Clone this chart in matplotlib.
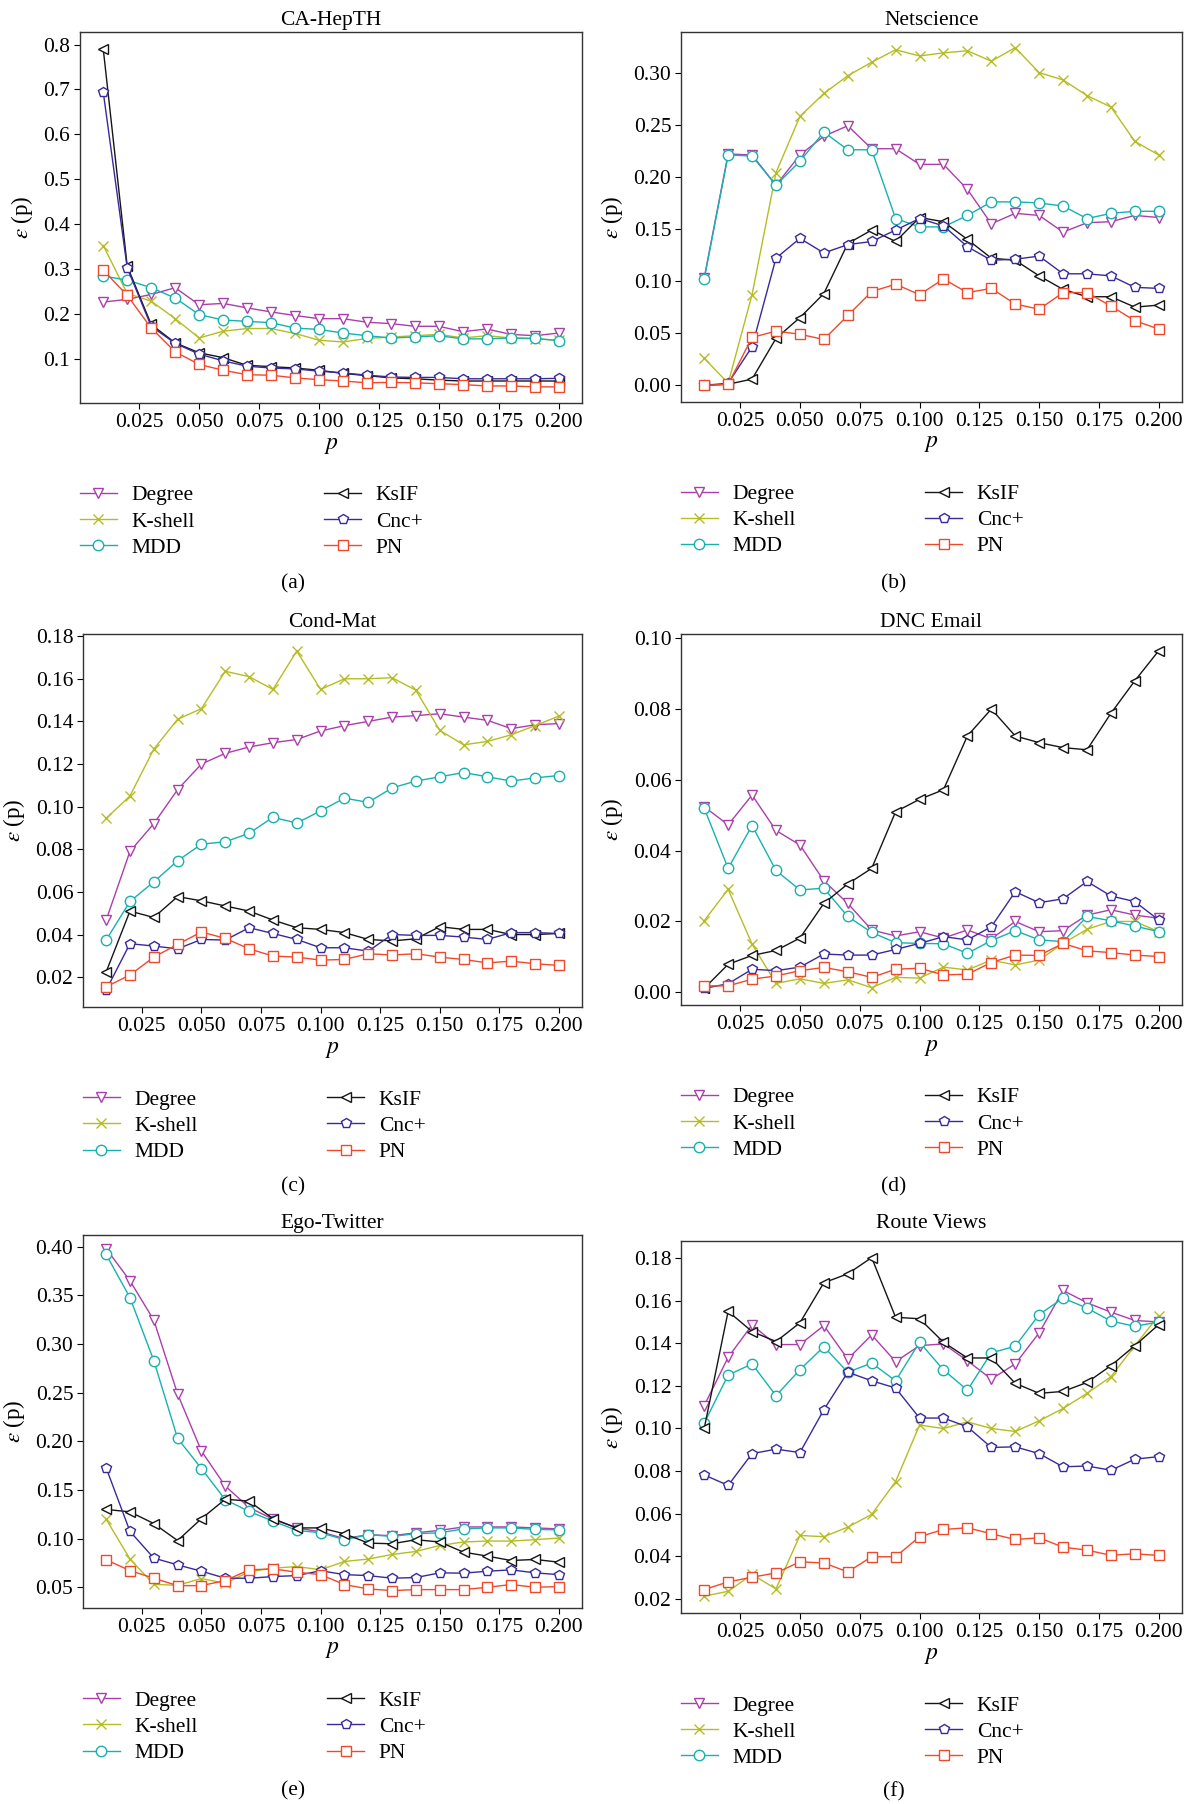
import matplotlib.pyplot as plt
from matplotlib.ticker import FixedLocator, FormatStrFormatter

plt.rcParams['font.family'] = 'serif'
plt.rcParams['font.serif'] = ['Liberation Serif', 'DejaVu Serif']
plt.rcParams['mathtext.fontset'] = 'stix'
plt.rcParams['font.size'] = 15

# fraction of removed nodes
p = [0.01, 0.02, 0.03, 0.04, 0.05, 0.06, 0.07, 0.08, 0.09, 0.10,
     0.11, 0.12, 0.13, 0.14, 0.15, 0.16, 0.17, 0.18, 0.19, 0.20]

methods = ['Degree', 'K-shell', 'MDD', 'KsIF', 'Cnc+', 'PN']

# CA-HepTH
hepth_degree = [0.226, 0.232, 0.243, 0.258, 0.220, 0.223, 0.213, 0.204, 0.196, 0.189,
                0.189, 0.181, 0.178, 0.172, 0.172, 0.160, 0.166, 0.154, 0.151, 0.157]
hepth_kshell = [0.352, 0.245, 0.228, 0.189, 0.146, 0.161, 0.167, 0.167, 0.156, 0.141,
                0.137, 0.145, 0.148, 0.151, 0.154, 0.146, 0.151, 0.146, 0.144, 0.141]
hepth_mdd = [0.284, 0.275, 0.258, 0.235, 0.198, 0.186, 0.183, 0.180, 0.168, 0.165,
             0.157, 0.151, 0.146, 0.148, 0.151, 0.144, 0.144, 0.146, 0.145, 0.140]
hepth_ksif = [0.790, 0.306, 0.176, 0.135, 0.113, 0.102, 0.085, 0.082, 0.079, 0.074,
              0.067, 0.062, 0.057, 0.055, 0.052, 0.050, 0.050, 0.050, 0.050, 0.050]
hepth_cnc = [0.694, 0.302, 0.172, 0.134, 0.110, 0.095, 0.083, 0.079, 0.077, 0.072,
             0.068, 0.063, 0.059, 0.058, 0.058, 0.055, 0.055, 0.055, 0.055, 0.056]
hepth_pn = [0.297, 0.241, 0.168, 0.115, 0.087, 0.074, 0.064, 0.063, 0.057, 0.053,
            0.050, 0.046, 0.047, 0.046, 0.044, 0.042, 0.039, 0.039, 0.037, 0.037]

# Netscience
net_degree = [0.103, 0.222, 0.221, 0.192, 0.221, 0.239, 0.249, 0.227, 0.227, 0.212,
              0.212, 0.188, 0.155, 0.165, 0.163, 0.147, 0.156, 0.157, 0.163, 0.161]
net_kshell = [0.026, 0.002, 0.087, 0.204, 0.258, 0.280, 0.297, 0.310, 0.322, 0.316,
              0.319, 0.321, 0.311, 0.324, 0.300, 0.293, 0.278, 0.267, 0.234, 0.221]
net_mdd = [0.102, 0.221, 0.220, 0.192, 0.215, 0.243, 0.226, 0.226, 0.160, 0.152,
           0.152, 0.163, 0.176, 0.176, 0.175, 0.172, 0.160, 0.165, 0.167, 0.167]
net_ksif = [0.000, 0.001, 0.006, 0.045, 0.065, 0.088, 0.136, 0.149, 0.138, 0.161,
            0.157, 0.140, 0.122, 0.120, 0.105, 0.092, 0.085, 0.085, 0.075, 0.077]
net_cnc = [0.000, 0.002, 0.037, 0.122, 0.141, 0.127, 0.135, 0.138, 0.149, 0.160,
           0.153, 0.133, 0.120, 0.121, 0.124, 0.107, 0.107, 0.105, 0.094, 0.093]
net_pn = [0.000, 0.001, 0.046, 0.052, 0.049, 0.044, 0.067, 0.090, 0.097, 0.087,
          0.102, 0.089, 0.093, 0.078, 0.073, 0.089, 0.089, 0.076, 0.062, 0.054]

# Cond-Mat
cond_degree = [0.0467, 0.079, 0.092, 0.108, 0.120, 0.125, 0.128, 0.130, 0.1315, 0.1355,
               0.138, 0.140, 0.142, 0.1427, 0.1436, 0.142, 0.1405, 0.1366, 0.1384, 0.139]
cond_kshell = [0.0945, 0.105, 0.127, 0.141, 0.146, 0.1635, 0.161, 0.155, 0.173, 0.155,
               0.160, 0.160, 0.1605, 0.1546, 0.1358, 0.129, 0.1306, 0.1337, 0.138, 0.1425]
cond_mdd = [0.0374, 0.0555, 0.0647, 0.0746, 0.0824, 0.0835, 0.0875, 0.095, 0.0923, 0.098,
            0.104, 0.102, 0.1088, 0.112, 0.114, 0.116, 0.114, 0.112, 0.1135, 0.1146]
cond_ksif = [0.0224, 0.051, 0.048, 0.0578, 0.0558, 0.0534, 0.051, 0.0468, 0.0432, 0.0424,
             0.0409, 0.0377, 0.037, 0.038, 0.0437, 0.0424, 0.0424, 0.040, 0.040, 0.0405]
cond_cnc = [0.0139, 0.0357, 0.0346, 0.0333, 0.0377, 0.0374, 0.0432, 0.0405, 0.0377, 0.0338,
            0.0338, 0.0322, 0.040, 0.0396, 0.0396, 0.0388, 0.0377, 0.0409, 0.0409, 0.0405]
cond_pn = [0.0155, 0.021, 0.0294, 0.0354, 0.0412, 0.0382, 0.0333, 0.0299, 0.0294, 0.028,
           0.0283, 0.031, 0.0304, 0.031, 0.0294, 0.0283, 0.0267, 0.0275, 0.0263, 0.0255]

# DNC Email
dnc_degree = [0.0524, 0.0473, 0.0557, 0.0457, 0.0416, 0.0315, 0.0251, 0.0176, 0.0159, 0.0171,
              0.0153, 0.0176, 0.0151, 0.0200, 0.0171, 0.0174, 0.0218, 0.0233, 0.0218, 0.0209]
dnc_kshell = [0.0202, 0.0291, 0.0136, 0.0025, 0.0038, 0.0025, 0.0035, 0.0013, 0.0042, 0.0040,
              0.0071, 0.0063, 0.0091, 0.0077, 0.0091, 0.0138, 0.0178, 0.0200, 0.0200, 0.0171]
dnc_mdd = [0.0520, 0.0350, 0.0471, 0.0344, 0.0289, 0.0294, 0.0214, 0.0169, 0.0140, 0.0138,
           0.0137, 0.0110, 0.0146, 0.0174, 0.0148, 0.0143, 0.0214, 0.0202, 0.0187, 0.0171]
dnc_ksif = [0.0011, 0.0079, 0.0104, 0.0118, 0.0153, 0.0251, 0.0306, 0.0350, 0.0510, 0.0545,
            0.0572, 0.0724, 0.0800, 0.0724, 0.0705, 0.0691, 0.0685, 0.0788, 0.0880, 0.0965]
dnc_cnc = [0.0011, 0.0024, 0.0065, 0.0061, 0.0071, 0.0108, 0.0105, 0.0105, 0.0121, 0.0138,
           0.0157, 0.0148, 0.0185, 0.0284, 0.0253, 0.0264, 0.0313, 0.0272, 0.0256, 0.0204]
dnc_pn = [0.0018, 0.0018, 0.0037, 0.0046, 0.0061, 0.0070, 0.0058, 0.0042, 0.0065, 0.0068,
          0.0049, 0.0051, 0.0084, 0.0105, 0.0104, 0.0138, 0.0117, 0.0112, 0.0105, 0.0101]

# Ego-Twitter
ego_degree = [0.398, 0.365, 0.3246, 0.2486, 0.190, 0.154, 0.132, 0.120, 0.111, 0.107,
              0.100, 0.104, 0.103, 0.106, 0.1085, 0.112, 0.112, 0.112, 0.111, 0.110]
ego_kshell = [0.120, 0.079, 0.053, 0.052, 0.059, 0.054, 0.066, 0.0696, 0.0713, 0.068,
              0.0765, 0.079, 0.0837, 0.0868, 0.093, 0.0965, 0.0975, 0.0975, 0.0989, 0.1006]
ego_mdd = [0.392, 0.3477, 0.283, 0.203, 0.172, 0.140, 0.128, 0.118, 0.1085, 0.106,
           0.0989, 0.104, 0.1023, 0.105, 0.106, 0.110, 0.111, 0.111, 0.1095, 0.109]
ego_ksif = [0.130, 0.1275, 0.1155, 0.098, 0.1205, 0.1405, 0.1385, 0.1205, 0.111, 0.111,
            0.105, 0.0954, 0.0947, 0.0989, 0.0965, 0.0861, 0.082, 0.0775, 0.0786, 0.0758]
ego_cnc = [0.1728, 0.1075, 0.080, 0.073, 0.0665, 0.0593, 0.0593, 0.061, 0.062, 0.067,
           0.063, 0.062, 0.0593, 0.060, 0.0648, 0.0645, 0.0665, 0.0679, 0.0648, 0.063]
ego_pn = [0.0782, 0.0672, 0.0593, 0.0517, 0.0517, 0.0569, 0.0679, 0.0689, 0.0655, 0.063,
          0.0528, 0.0483, 0.0466, 0.0476, 0.0476, 0.0476, 0.050, 0.0528, 0.050, 0.0507]

# Route Views
route_degree = [0.1107, 0.1334, 0.1486, 0.1394, 0.1394, 0.1483, 0.1326, 0.1439, 0.1314, 0.1389,
                0.1397, 0.1318, 0.1232, 0.1303, 0.1449, 0.1648, 0.159, 0.1546, 0.1507, 0.150]
route_kshell = [0.0213, 0.0236, 0.0315, 0.0247, 0.0498, 0.0492, 0.0537, 0.0597, 0.0751, 0.1016,
                0.100, 0.1031, 0.100, 0.0986, 0.1036, 0.1094, 0.1165, 0.1243, 0.1389, 0.153]
route_mdd = [0.1025, 0.1251, 0.1303, 0.1154, 0.1276, 0.1384, 0.1264, 0.1307, 0.1224, 0.1405,
             0.1275, 0.118, 0.1355, 0.1386, 0.1535, 0.1612, 0.1565, 0.1504, 0.148, 0.150]
route_ksif = [0.100, 0.155, 0.1455, 0.1408, 0.1496, 0.1684, 0.1726, 0.1802, 0.1522, 0.1515,
              0.1405, 0.1331, 0.1331, 0.1212, 0.1165, 0.1174, 0.1216, 0.1295, 0.1389, 0.1488]
route_cnc = [0.0782, 0.0733, 0.0882, 0.0903, 0.0887, 0.1088, 0.1264, 0.1224, 0.119, 0.1049,
             0.1049, 0.1008, 0.0911, 0.0914, 0.0882, 0.082, 0.0824, 0.0804, 0.0856, 0.0868]
route_pn = [0.0244, 0.028, 0.0302, 0.0322, 0.0374, 0.0369, 0.0327, 0.0398, 0.0398, 0.0492,
            0.0526, 0.0534, 0.0506, 0.0479, 0.0487, 0.0443, 0.0429, 0.0405, 0.0412, 0.0404]

colors = ['#aa3fac', '#b6bd23', '#17b2ae', '#151515', '#382a9a', '#f0492c']
markers = ['v', 'x', 'o', '<', 'p', 's']

panels = [
    ('CA-HepTH', [hepth_degree, hepth_kshell, hepth_mdd, hepth_ksif, hepth_cnc, hepth_pn],
     (0.001, 0.828), [0.1, 0.2, 0.3, 0.4, 0.5, 0.6, 0.7, 0.8], '%.1f'),
    ('Netscience', [net_degree, net_kshell, net_mdd, net_ksif, net_cnc, net_pn],
     (-0.016, 0.339), [0.0, 0.05, 0.10, 0.15, 0.20, 0.25, 0.30], '%.2f'),
    ('Cond-Mat', [cond_degree, cond_kshell, cond_mdd, cond_ksif, cond_cnc, cond_pn],
     (0.006, 0.181), [0.02, 0.04, 0.06, 0.08, 0.10, 0.12, 0.14, 0.16, 0.18], '%.2f'),
    ('DNC Email', [dnc_degree, dnc_kshell, dnc_mdd, dnc_ksif, dnc_cnc, dnc_pn],
     (-0.0036, 0.1012), [0.0, 0.02, 0.04, 0.06, 0.08, 0.10], '%.2f'),
    ('Ego-Twitter', [ego_degree, ego_kshell, ego_mdd, ego_ksif, ego_cnc, ego_pn],
     (0.0287, 0.412), [0.05, 0.10, 0.15, 0.20, 0.25, 0.30, 0.35, 0.40], '%.2f'),
    ('Route Views', [route_degree, route_kshell, route_mdd, route_ksif, route_cnc, route_pn],
     (0.0134, 0.188), [0.02, 0.04, 0.06, 0.08, 0.10, 0.12, 0.14, 0.16, 0.18], '%.2f'),
]

W, H = 1190, 1804
# axes boxes in pixels: left, top, right, bottom
boxes = [(80, 32, 582, 403), (681, 32, 1182, 402),
         (83, 634, 582, 1007), (681, 634, 1182, 1005),
         (83, 1235, 582, 1608), (681, 1241, 1182, 1613)]
title_pads = [5, 5, 5, 5, 5, 9.5]
sublabels = ['(a)', '(b)', '(c)', '(d)', '(e)', '(f)']
sub_pos = [(293, 584), (894, 584), (293, 1187), (894, 1187), (293, 1791), (894, 1792)]

fig = plt.figure(figsize=(W / 100, H / 100), dpi=100)

for (title, series, ylim, yticks, yfmt), (l, t, r, b), tpad, lab, (sx, sy) in zip(
        panels, boxes, title_pads, sublabels, sub_pos):
    ax = fig.add_axes([l / W, 1 - b / H, (r - l) / W, (b - t) / H])
    for vals, name, c, m in zip(series, methods, colors, markers):
        ax.plot(p, vals, color=c, marker=m, mfc='white', mec=c, ms=7.5, mew=1.0,
                lw=1.0, label=name)
    ax.set_xlim(0.0003, 0.2097)
    ax.set_ylim(*ylim)
    ax.xaxis.set_major_locator(FixedLocator([0.025, 0.05, 0.075, 0.1, 0.125, 0.15, 0.175, 0.2]))
    ax.xaxis.set_major_formatter(FormatStrFormatter('%.3f'))
    ax.yaxis.set_major_locator(FixedLocator(yticks))
    ax.yaxis.set_major_formatter(FormatStrFormatter(yfmt))
    ax.tick_params(direction='out', length=4, width=0.8, labelsize=15.5, pad=3)
    for s in ax.spines.values():
        s.set_linewidth(1.0)
        s.set_color('#333333')
    ax.set_title(title, fontsize=15.5, pad=tpad)
    ax.set_xlabel('$p$', fontsize=17, labelpad=2)
    ax.set_ylabel(r'$\varepsilon$ (p)', fontsize=16.5, labelpad=6)
    ax.legend(ncol=2, loc='upper left', bbox_to_anchor=(0, -0.222), frameon=False,
              fontsize=15.5, handlelength=1.7, handletextpad=0.7, columnspacing=6.0,
              labelspacing=0.28, borderpad=0, borderaxespad=0)
    fig.text(sx / W, 1 - sy / H, lab, ha='center', va='center', fontsize=15.5)

fig.savefig('out.png', dpi=100)
